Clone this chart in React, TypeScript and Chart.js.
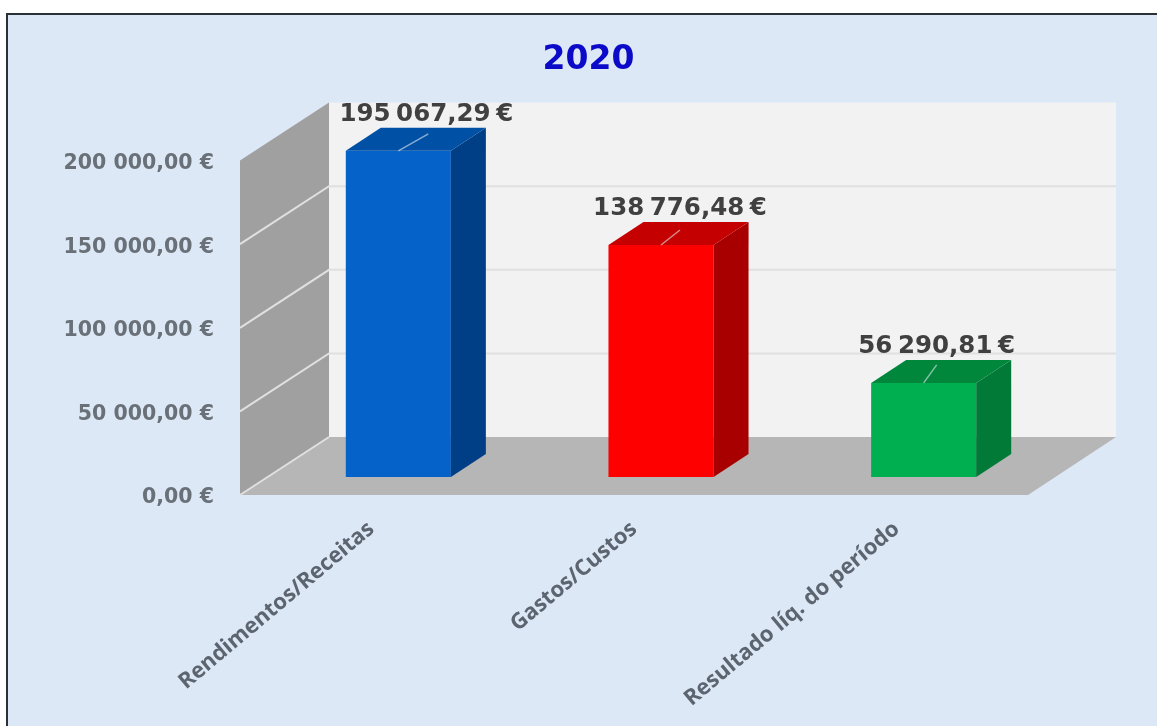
import React, { useEffect, useRef } from "react";
import { Chart, registerables } from "chart.js";

Chart.register(...registerables);

const titleText = "2020";
const categories = ["Rendimentos/Receitas", "Gastos/Custos", "Resultado líq. do período"];
const values = [195067.29, 138776.48, 56290.81];
const frontColors = ["#0562c8", "#ff0000", "#00b050"];
const sideColors = ["#003f85", "#a80000", "#007a36"];
const topColors = ["#0050a6", "#c40000", "#00873c"];

const fmt = (v: number) => {
  const [i, d] = v.toFixed(2).split(".");
  return i.replace(/\B(?=(\d{3})+$)/g, " ") + "," + d + " €";
};

const WALL_DX = 89;
const WALL_DY = 58;
const BAR_DX = 27;
const BAR_DY = 18;
const SIDE_DX = 35;
const SIDE_DY = 23;
const LABEL_SHIFT = [28, 19, 13];
const LEADER_END = [[30, -17], [19, -15], [13, -18]];

function poly(ctx: CanvasRenderingContext2D, pts: number[][], fill: string) {
  ctx.beginPath();
  pts.forEach(([x, y], i) => (i ? ctx.lineTo(x, y) : ctx.moveTo(x, y)));
  ctx.closePath();
  ctx.fillStyle = fill;
  ctx.fill();
}

const frame3d = {
  id: "frame3d",
  beforeDraw(chart: any) {
    const { ctx, width, height } = chart;
    ctx.save();
    ctx.fillStyle = "#ffffff";
    ctx.fillRect(0, 0, width, height);
    ctx.fillStyle = "#dce8f6";
    ctx.fillRect(7, 14, width - 7, height - 14);
    ctx.strokeStyle = "#2b3036";
    ctx.lineWidth = 2;
    ctx.beginPath();
    ctx.moveTo(7, height);
    ctx.lineTo(7, 14);
    ctx.lineTo(width, 14);
    ctx.stroke();
    ctx.restore();
  },
  beforeDatasetsDraw(chart: any) {
    const { ctx, chartArea: a, scales } = chart;
    const y = scales.y;
    const top = y.getPixelForValue(y.max);
    const bot = y.getPixelForValue(0);
    ctx.save();
    poly(ctx, [[a.left + WALL_DX, top - WALL_DY], [a.right + WALL_DX - 1, top - WALL_DY], [a.right + WALL_DX - 1, bot - WALL_DY], [a.left + WALL_DX, bot - WALL_DY]], "#f2f2f2");
    poly(ctx, [[a.left, top], [a.left + WALL_DX, top - WALL_DY], [a.left + WALL_DX, bot - WALL_DY], [a.left, bot]], "#a0a0a0");
    poly(ctx, [[a.left, bot], [a.left + WALL_DX, bot - WALL_DY], [a.right + WALL_DX - 1, bot - WALL_DY], [a.right, bot]], "#b6b6b6");
    ctx.lineWidth = 2;
    y.ticks.forEach((t: any) => {
      if (t.value === y.max) return;
      const p = y.getPixelForValue(t.value);
      ctx.strokeStyle = "#e0e0e0";
      ctx.beginPath();
      ctx.moveTo(a.left, p);
      ctx.lineTo(a.left + WALL_DX, p - WALL_DY);
      if (t.value !== 0) {
        ctx.lineTo(a.right + WALL_DX - 1, p - WALL_DY);
      }
      ctx.stroke();
    });
    ctx.restore();
  },
  beforeDatasetDraw(chart: any) {
    chart.ctx.save();
    chart.ctx.translate(BAR_DX, -BAR_DY);
  },
  afterDatasetDraw(chart: any) {
    chart.ctx.restore();
  },
  afterDatasetsDraw(chart: any) {
    const { ctx } = chart;
    const meta = chart.getDatasetMeta(0);
    ctx.save();
    meta.data.forEach((bar: any, i: number) => {
      const r = bar.x + bar.width / 2 + BAR_DX;
      const l = bar.x - bar.width / 2 + BAR_DX;
      const t = bar.y - BAR_DY;
      const b = bar.base - BAR_DY;
      poly(ctx, [[r, t], [r + SIDE_DX, t - SIDE_DY], [r + SIDE_DX, b - SIDE_DY], [r, b]], sideColors[i]);
      poly(ctx, [[l, t], [l + SIDE_DX, t - SIDE_DY], [r + SIDE_DX, t - SIDE_DY], [r, t]], topColors[i]);
      const cx = bar.x + BAR_DX;
      ctx.strokeStyle = "rgba(225,235,240,0.6)";
      ctx.lineWidth = 1.5;
      ctx.beginPath();
      ctx.moveTo(cx, t);
      ctx.lineTo(cx + LEADER_END[i][0], t + LEADER_END[i][1]);
      ctx.stroke();
      ctx.font = "700 24.5px 'DejaVu Sans'";
      (ctx as any).wordSpacing = "-3px";
      ctx.fillStyle = "#404040";
      ctx.textAlign = "center";
      ctx.textBaseline = "middle";
      ctx.fillText(fmt(values[i]), cx + LABEL_SHIFT[i], t - 36);
      (ctx as any).wordSpacing = "0px";
    });
    ctx.restore();
  },
};

export default function App() {
  const ref = useRef<HTMLCanvasElement | null>(null);
  useEffect(() => {
    const chart = new Chart(ref.current as HTMLCanvasElement, {
      type: "bar",
      data: {
        labels: categories,
        datasets: [
          {
            data: values,
            backgroundColor: frontColors,
            barPercentage: 0.4,
            categoryPercentage: 1,
            clip: false as any,
          },
        ],
      },
      plugins: [frame3d],
      options: {
        animation: false,
        responsive: false,
        devicePixelRatio: 1,
        layout: { padding: { left: 20, right: 0, top: 0, bottom: 0 } },
        plugins: {
          legend: { display: false },
          tooltip: { enabled: false },
          title: {
            display: true,
            text: titleText,
            color: "#0a0ac8",
            font: { family: "'DejaVu Sans'", size: 33, weight: "bold" },
            padding: { top: 41, bottom: 80 },
          },
        },
        scales: {
          x: {
            grid: { display: false },
            border: { display: false },
            afterFit: (s: any) => {
              s.height = 231;
            },
            ticks: {
              autoSkip: false,
              minRotation: 40,
              maxRotation: 40,
              padding: 13,
              color: "#5c6470",
              font: { family: "'Open Sans'", size: 22, weight: "bold" },
            },
          },
          y: {
            min: 0,
            max: 200000,
            grid: { display: false },
            border: { display: false },
            afterFit: (s: any) => {
              s.width = 220;
            },
            ticks: {
              stepSize: 50000,
              padding: 18,
              labelOffset: 3,
              color: "#6a7078",
              font: { family: "'DejaVu Sans'", size: 20.5, weight: "bold" },
              callback: (v: any) => fmt(Number(v)),
            },
          },
          spacer: {
            type: "linear",
            position: "right",
            display: true,
            grid: { display: false },
            border: { display: false },
            ticks: { display: false },
            afterFit: (s: any) => {
              s.width = 129;
            },
          },
        },
      },
    });
    return () => chart.destroy();
  }, []);
  return (
    <canvas
      ref={ref}
      width={1157}
      height={726}
      style={{ position: "absolute", left: 0, top: 0, display: "block" }}
    />
  );
}
